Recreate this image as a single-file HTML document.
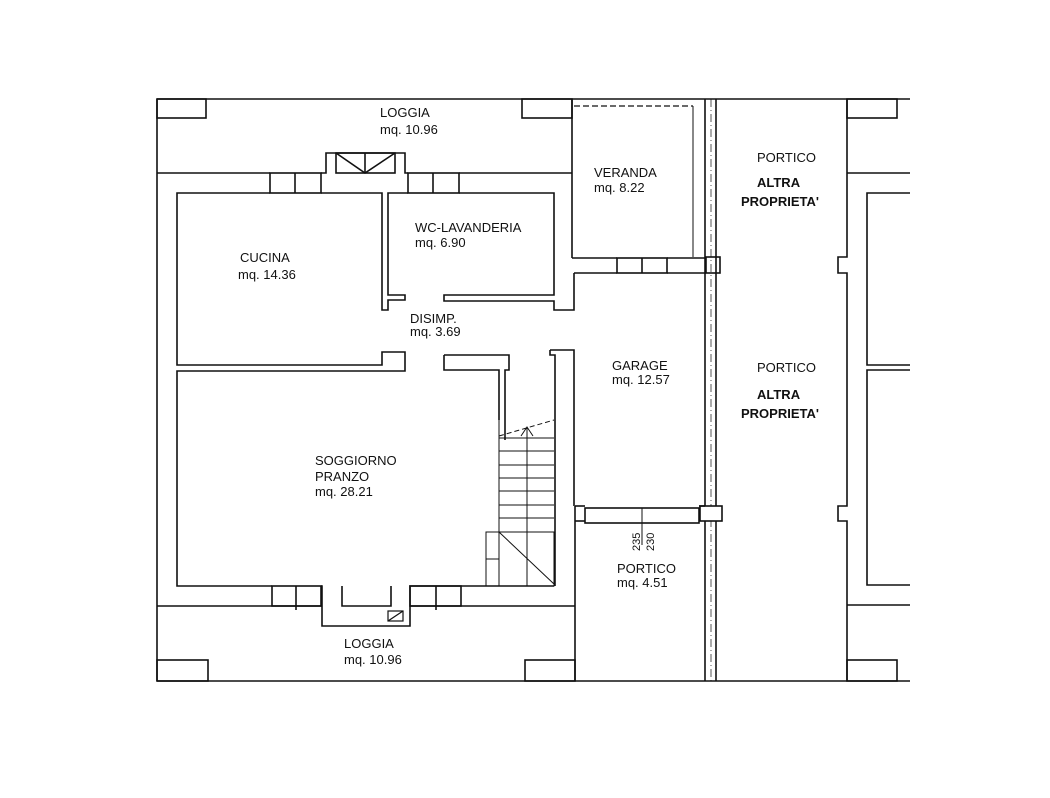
<!DOCTYPE html>
<html><head><meta charset="utf-8"><style>
html,body{margin:0;padding:0;background:#fff;}
svg{display:block;}
text{font-family:"Liberation Sans",Arial,sans-serif;font-size:13px;fill:#111;}
.b{font-weight:bold;font-size:13px;}
</style></head><body>
<svg width="1050" height="798" viewBox="0 0 1050 798" xmlns="http://www.w3.org/2000/svg">
<g fill="none" stroke="#111" stroke-width="1.6">
<line x1="157" y1="99" x2="910" y2="99"/>
<line x1="157" y1="99" x2="157" y2="681"/>
<line x1="157" y1="681" x2="910" y2="681"/>
<rect x="157" y="99" width="49" height="19"/>
<rect x="522" y="99" width="50" height="19"/>
<rect x="847" y="99" width="50" height="19"/>
<rect x="157" y="660" width="51" height="21"/>
<rect x="525" y="660" width="50" height="21"/>
<rect x="847" y="660" width="50" height="21"/>
<polyline points="157,173 270,173"/>
<polyline points="321,173 326,173 326,153 405,153 405,173 408,173"/>
<polyline points="459,173 572,173"/>
<rect x="336" y="153" width="59" height="20"/>
<polyline points="336,153 365,173 395,153"/><line x1="365" y1="153" x2="365" y2="173"/>
<rect x="270" y="173" width="51" height="20"/><line x1="295" y1="173" x2="295" y2="193"/>
<rect x="408" y="173" width="51" height="20"/><line x1="433" y1="173" x2="433" y2="193"/>
<polyline points="270,193 177,193 177,365 382,365 382,352 388,352 388,352 405,352 405,371 177,371 177,586 272,586"/>
<polyline points="321,193 382,193 382,310 388,310 388,300 405,300 405,295 388,295 388,193 408,193"/>
<polyline points="459,193 554,193 554,295 444,295 444,301 554,301 554,310 574,310 574,273"/>
<line x1="572" y1="99" x2="572" y2="258"/>
<polyline points="572,258 617,258"/>
<polyline points="574,273 617,273"/>
<rect x="617" y="258" width="50" height="15"/><line x1="642" y1="258" x2="642" y2="273"/>
<polyline points="667,258 706,258"/><polyline points="667,273 706,273"/>
<rect x="706" y="257" width="14" height="16"/>
<line x1="574" y1="106" x2="693" y2="106" stroke-dasharray="6,3" stroke-width="1.2"/>
<line x1="693" y1="106" x2="693" y2="257" stroke-width="1"/>
<line x1="705" y1="99" x2="705" y2="681"/>
<line x1="716" y1="99" x2="716" y2="681"/>
<line x1="711" y1="99" x2="711" y2="681" stroke-width="0.7" stroke-dasharray="8,3,1,3"/>
<rect x="700" y="506" width="22" height="15" fill="#fff"/>
<polyline points="444,355 509,355 509,370 505,370 505,440"/>
<polyline points="444,355 444,370 499,370 499,420"/>
<polyline points="550,350 574,350 574,506"/>
<polyline points="550,350 550,355 555,355 555,586"/>
<line x1="499" y1="436" x2="554" y2="420" stroke-dasharray="5,3" stroke-width="1"/>
<g stroke-width="1">
<line x1="499" y1="438" x2="554" y2="438"/><line x1="499" y1="451" x2="554" y2="451"/>
<line x1="499" y1="465" x2="554" y2="465"/><line x1="499" y1="478" x2="554" y2="478"/>
<line x1="499" y1="491" x2="554" y2="491"/><line x1="499" y1="505" x2="554" y2="505"/>
<line x1="499" y1="518" x2="554" y2="518"/><line x1="499" y1="532" x2="554" y2="532"/>
<line x1="499" y1="420" x2="499" y2="586"/>
<rect x="486" y="532" width="68" height="54"/>
<line x1="486" y1="559" x2="499" y2="559"/>
<line x1="499" y1="532" x2="554" y2="584"/>
<line x1="527" y1="427" x2="527" y2="586"/>
<polyline points="521,436 527,427 533,436"/>
</g>
<polyline points="321,586 322,586 322,626 410,626 410,586 461,586"/>
<polyline points="342,586 342,606 391,606 391,586"/>
<rect x="272" y="586" width="49" height="20"/><line x1="296" y1="586" x2="296" y2="610"/>
<rect x="410" y="586" width="51" height="20"/><line x1="436" y1="586" x2="436" y2="610"/>
<rect x="388" y="611" width="15" height="10" stroke-width="1.2"/><line x1="388" y1="621" x2="403" y2="611" stroke-width="1.2"/>
<polyline points="461,586 554,586"/>
<polyline points="157,606 322,606"/>
<polyline points="410,606 575,606"/>
<line x1="575" y1="506" x2="575" y2="681"/>
<line x1="575" y1="506" x2="585" y2="506"/>
<rect x="585" y="508" width="114" height="15"/><line x1="642" y1="508" x2="642" y2="545" stroke-width="1"/>
<line x1="575" y1="521" x2="585" y2="521"/>
<polyline points="699,506 705,506"/>
<polyline points="847,99 847,257 838,257 838,273 847,273 847,506 838,506 838,521 847,521 847,681"/>
<line x1="847" y1="173" x2="910" y2="173"/>
<polyline points="910,193 867,193 867,365 910,365"/>
<polyline points="910,370 867,370 867,585 910,585"/>
<line x1="847" y1="605" x2="910" y2="605"/>
</g>
<text x="380" y="117">LOGGIA</text>
<text x="380" y="134">mq. 10.96</text>
<text x="240" y="262">CUCINA</text>
<text x="238" y="279">mq. 14.36</text>
<text x="415" y="232">WC-LAVANDERIA</text>
<text x="415" y="247">mq. 6.90</text>
<text x="410" y="323">DISIMP.</text>
<text x="410" y="336">mq. 3.69</text>
<text x="594" y="177">VERANDA</text>
<text x="594" y="192">mq. 8.22</text>
<text x="757" y="162">PORTICO</text>
<text class="b" x="757" y="187">ALTRA</text>
<text class="b" x="741" y="206">PROPRIETA'</text>
<text x="612" y="370">GARAGE</text>
<text x="612" y="384">mq. 12.57</text>
<text x="757" y="372">PORTICO</text>
<text class="b" x="757" y="399">ALTRA</text>
<text class="b" x="741" y="418">PROPRIETA'</text>
<text x="315" y="465">SOGGIORNO</text>
<text x="315" y="481">PRANZO</text>
<text x="315" y="496">mq. 28.21</text>
<text x="617" y="573">PORTICO</text>
<text x="617" y="587">mq. 4.51</text>
<text x="344" y="648">LOGGIA</text>
<text x="344" y="664">mq. 10.96</text>
<text x="640" y="551" transform="rotate(-90 640 551)" style="font-size:11px">235</text>
<text x="654" y="551" transform="rotate(-90 654 551)" style="font-size:11px">230</text>
</svg>
</body></html>
